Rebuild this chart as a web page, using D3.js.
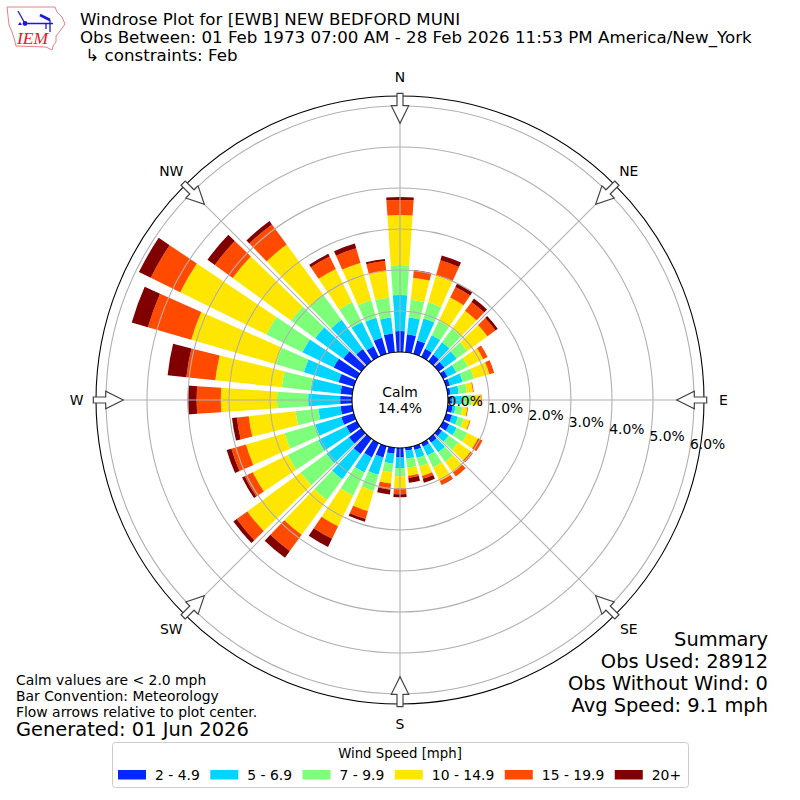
<!DOCTYPE html>
<html>
<head>
<meta charset="utf-8">
<script src="https://cdn.jsdelivr.net/npm/d3@7"></script>
<style>
  html, body { margin: 0; padding: 0; background: #fff; }
  svg { display: block; }
  text { font-family: "DejaVu Sans", sans-serif; fill: #000; }
</style>
</head>
<body>
<div id="chart"></div>
<script>
// percent of obs per 10 degree direction bin, clockwise from north
var directions = d3.range(0, 360, 10);
var speed2to5 = [.51,.44,.34,.22,.20,.17,.12,.10,.07,.10,.12,.15,.17,.10,.12,.10,.10,.07,.22,.15,.29,.39,.46,.37,.29,.32,.29,.29,.29,.39,.63,.54,.37,.29,.41,.46];
var speed5to7 = [.88,.41,.56,.37,.37,.37,.24,.32,.20,.24,.07,.15,.20,.20,.29,.24,.20,.20,.27,.24,.44,.41,.76,.68,.76,.66,.54,.78,.73,.88,.85,.85,.88,.66,.51,.39];
var speed7to10 = [.73,.44,.41,.39,.41,.32,.32,.29,.20,.24,.17,.15,.29,.29,.29,.32,.22,.22,.20,.22,.41,.63,.63,.78,.83,.78,.56,.76,.71,.71,.98,.73,.76,.54,.44,.49];
var speed10to15 = [1.22,.54,.68,.63,.54,.61,.41,.39,.15,.22,.12,.15,.29,.37,.32,.37,.24,.20,.29,.27,.51,.83,1.05,1.61,.95,.98,1.15,1.37,1.63,2.15,2.34,1.76,1.51,.90,.95,.66];
var speed15to20 = [.37,.17,.39,.29,.27,.24,.12,.12,.02,.02,.02,.02,.12,.07,.12,.10,.07,.05,.15,.15,.20,.34,.49,.32,.22,.37,.29,.59,.71,1.10,.80,.54,.61,.34,.37,.24];
var speed20plus = [.07,.02,.12,.10,.10,.07,0,0,0,0,0,0,0,0,0,.01,.10,.12,.07,.12,.07,.22,.20,.10,.07,.12,.12,.22,.46,.41,.32,.22,.10,.07,.12,.05];

var speedSeries = [speed2to5, speed5to7, speed7to10, speed10to15, speed15to20, speed20plus];
var speedLabels = ['2 - 4.9', '5 - 6.9', '7 - 9.9', '10 - 14.9', '15 - 19.9', '20+'];
var speedColors = ['#0028ff', '#00d4ff', '#7dff7a', '#ffe600', '#ff4a00', '#800000'];

var ringTicks = [0, 1, 2, 3, 4, 5, 6];
var compass = [['N', 0], ['NE', 45], ['E', 90], ['SE', 135], ['S', 180], ['SW', 225], ['W', 270], ['NW', 315]];

var titleLines = [
  'Windrose Plot for [EWB] NEW BEDFORD MUNI',
  'Obs Between: 01 Feb 1973 07:00 AM - 28 Feb 2026 11:53 PM America/New_York',
  ' \u21B3 constraints: Feb'
];
var summaryLines = ['Summary', 'Obs Used: 28912', 'Obs Without Wind: 0', 'Avg Speed: 9.1 mph'];
var noteLines = ['Calm values are < 2.0 mph', 'Bar Convention: Meteorology', 'Flow arrows relative to plot center.'];

var width = 800, height = 800, cx = 400, cy = 400;
var rad = Math.PI / 180;
var barWidth = 7.8;

var svg = d3.select('#chart').append('svg')
  .attr('width', width)
  .attr('height', height);

var r = d3.scaleLinear().domain([0, 6]).range([48, 294]);
var rOuter = 304;

var plot = svg.append('g').attr('transform', 'translate(' + cx + ',' + cy + ')');

// stacked bars
var stacked = d3.stack()
  .keys(d3.range(speedSeries.length))
  .value(function (d, k) { return speedSeries[k][d]; })(d3.range(directions.length));

var arc = d3.arc();
plot.selectAll('g.bin')
  .data(stacked)
  .enter()
  .append('g')
    .attr('class', 'bin')
    .attr('fill', function (d, i) { return speedColors[i]; })
  .selectAll('path')
  .data(function (d) { return d; })
  .enter()
  .append('path')
    .attr('d', function (d) {
      var dir = directions[d.data];
      return arc({
        innerRadius: r(d[0]),
        outerRadius: r(d[1]),
        startAngle: (dir - barWidth / 2) * rad,
        endAngle: (dir + barWidth / 2) * rad
      });
    });

// grid goes over the bars
plot.selectAll('circle.ring')
  .data(ringTicks.slice(1))
  .enter()
  .append('circle')
    .attr('class', 'ring')
    .attr('r', function (d) { return r(d); })
    .attr('fill', 'none')
    .attr('stroke', '#b0b0b0')
    .attr('stroke-width', 1.1);

plot.selectAll('line.spoke')
  .data(compass)
  .enter()
  .append('line')
    .attr('class', 'spoke')
    .attr('x1', function (d) { return r(0) * Math.sin(d[1] * rad); })
    .attr('y1', function (d) { return -r(0) * Math.cos(d[1] * rad); })
    .attr('x2', function (d) { return rOuter * Math.sin(d[1] * rad); })
    .attr('y2', function (d) { return -rOuter * Math.cos(d[1] * rad); })
    .attr('stroke', '#b0b0b0')
    .attr('stroke-width', 1.1);

plot.append('circle').attr('r', r(0)).attr('fill', '#fff').attr('stroke', '#000').attr('stroke-width', 1.1);
plot.append('circle').attr('r', rOuter).attr('fill', 'none').attr('stroke', '#000').attr('stroke-width', 1.1);

// flow arrows, drawn for north and rotated around
var arrowShape = [[-3, -rOuter - 2.7], [3, -rOuter - 2.7], [3, -294.3], [8.7, -294.3], [0, -276.7], [-8.7, -294.3], [-3, -294.3]];
plot.selectAll('path.flow')
  .data(compass)
  .enter()
  .append('path')
    .attr('class', 'flow')
    .attr('d', 'M' + arrowShape.join('L') + 'Z')
    .attr('transform', function (d) { return 'rotate(' + d[1] + ')'; })
    .attr('fill', '#fff')
    .attr('stroke', '#444')
    .attr('stroke-width', 1.2);

plot.selectAll('text.dir')
  .data(compass)
  .enter()
  .append('text')
    .attr('class', 'dir')
    .attr('x', function (d) { return 323.5 * Math.sin(d[1] * rad); })
    .attr('y', function (d) { return -323.5 * Math.cos(d[1] * rad); })
    .attr('text-anchor', 'middle')
    .attr('dominant-baseline', 'central')
    .style('font-size', '13.9px')
    .text(function (d) { return d[0]; });

// radial tick labels sit along the 100 degree line
plot.selectAll('text.rlabel')
  .data(ringTicks)
  .enter()
  .append('text')
    .attr('class', 'rlabel')
    .attr('x', function (d) { return r(d) * Math.sin(100 * rad) + 18; })
    .attr('y', function (d) { return -r(d) * Math.cos(100 * rad) - 7.5; })
    .attr('text-anchor', 'middle')
    .attr('dominant-baseline', 'central')
    .style('font-size', '13.9px')
    .text(function (d) { return d.toFixed(1) + '%'; });

plot.selectAll('text.calm')
  .data(['Calm', '14.4%'])
  .enter()
  .append('text')
    .attr('class', 'calm')
    .attr('y', function (d, i) { return -8 + i * 15.5; })
    .attr('text-anchor', 'middle')
    .attr('dominant-baseline', 'central')
    .style('font-size', '13.9px')
    .text(function (d) { return d; });

// header
svg.selectAll('text.title')
  .data(titleLines)
  .enter()
  .append('text')
    .attr('class', 'title')
    .attr('x', 80)
    .attr('y', function (d, i) { return 25 + i * 18; })
    .attr('xml:space', 'preserve')
    .style('white-space', 'pre')
    .style('font-size', '16.67px')
    .text(function (d) { return d; });

// IEM logo
var logo = svg.append('g').attr('class', 'logo');
logo.append('path')
  .attr('d', 'M7 7L55 7L57 12L62 17L65 24L60 31L56 36L56 42L53 46L52 50L46 47L16 46L14 38L12 32L9 25L8 16Z')
  .attr('fill', '#fff')
  .attr('stroke', '#e88080')
  .attr('stroke-width', 1);
logo.append('path')
  .attr('d', 'M25 23.5L53 23.5M18 11L25 23.5M50 20L50 32M46 24L46 29')
  .attr('fill', 'none')
  .attr('stroke', '#1a1ad0')
  .attr('stroke-width', 1.3);
logo.append('path')
  .attr('d', 'M40 15L50 20')
  .attr('stroke', '#1a1ad0')
  .attr('stroke-width', 2.6);
logo.append('circle').attr('cx', 25).attr('cy', 23.5).attr('r', 2.4).attr('fill', '#1a1ad0');
logo.append('path').attr('d', 'M20 22L22 25L18 25Z').attr('fill', '#1a1ad0');
logo.append('text')
  .attr('x', 17)
  .attr('y', 44)
  .style('font-family', '"Liberation Serif", serif')
  .style('font-style', 'italic')
  .style('font-size', '17.5px')
  .style('fill', '#d8232a')
  .text('IEM');

// summary block, bottom right
svg.selectAll('text.summary')
  .data(summaryLines)
  .enter()
  .append('text')
    .attr('class', 'summary')
    .attr('x', 768)
    .attr('y', function (d, i) { return 646 + i * 22; })
    .attr('text-anchor', 'end')
    .style('font-size', '19.44px')
    .text(function (d) { return d; });

// notes, bottom left
svg.selectAll('text.note')
  .data(noteLines)
  .enter()
  .append('text')
    .attr('class', 'note')
    .attr('x', 16)
    .attr('y', function (d, i) { return 685 + i * 16; })
    .style('font-size', '13.9px')
    .text(function (d) { return d; });

svg.append('text')
  .attr('x', 16)
  .attr('y', 736)
  .style('font-size', '19.44px')
  .text('Generated: 01 Jun 2026');

// legend
var legend = svg.append('g').attr('class', 'legend');
legend.append('rect')
  .attr('x', 112.5)
  .attr('y', 742.5)
  .attr('width', 576)
  .attr('height', 45)
  .attr('rx', 3)
  .attr('fill', '#fff')
  .attr('stroke', '#ccc');
legend.append('text')
  .attr('x', 400)
  .attr('y', 753)
  .attr('text-anchor', 'middle')
  .attr('dominant-baseline', 'central')
  .style('font-size', '13.3px')
  .text('Wind Speed [mph]');

var legendX = 118;
speedLabels.forEach(function (label, i) {
  legend.append('rect')
    .attr('x', legendX)
    .attr('y', 770)
    .attr('width', 28)
    .attr('height', 9.5)
    .attr('fill', speedColors[i]);
  var t = legend.append('text')
    .attr('x', legendX + 37)
    .attr('y', 774.5)
    .attr('dominant-baseline', 'central')
    .style('font-size', '13.9px')
    .text(label);
  legendX += 37 + t.node().getComputedTextLength() + 10.5;
});
</script>
</body>
</html>
